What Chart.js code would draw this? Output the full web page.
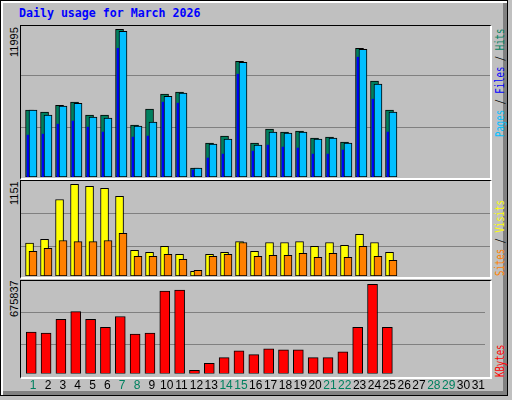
<!DOCTYPE html>
<html><head><meta charset="utf-8">
<script src="https://cdn.jsdelivr.net/npm/chart.js@4"></script>
<style>
body{margin:0;background:#C0C0C0;}
#frame{position:absolute;left:0;top:0;width:506px;height:394px;background:#C0C0C0;border:1px solid #000;box-shadow:inset 2px 2px 0 #fff, inset -4px -4px 0 #808080;}
.panel{position:absolute;left:20px;width:469px;border-top:1px solid #000;border-left:1px solid #000;border-right:2px solid #fff;border-bottom:2px solid #fff;background:#C0C0C0;}
canvas{position:absolute;}
.rot{position:absolute;transform-origin:0 0;transform:rotate(-90deg);white-space:nowrap;}
.yl{font:11px "Liberation Sans";line-height:11px;color:#000;}
.rl{font:9px "DejaVu Sans Mono";line-height:10px;transform:rotate(-90deg) scale(1,1.3);}
#title{position:absolute;left:19px;top:6px;font:bold 11.6px "DejaVu Sans Mono";color:#0000FF;}
</style></head><body>
<div id="frame"></div>
<div id="title">Daily usage for March 2026</div>
<div class="panel" style="top:25px;height:152px"></div>
<div class="panel" style="top:180px;height:96px"></div>
<div class="panel" style="top:280px;height:96px"></div>
<div class="rot yl" style="left:9px;top:57px">11995</div>
<div class="rot yl" style="left:9px;top:205px">1151</div>
<div class="rot yl" style="left:9px;top:317px">675837</div>
<div class="rot rl" style="left:494px;top:137px"><span style="color:#00BFFF">Pages</span> / <span style="color:#0000FF">Files</span> / <span style="color:#00805F">Hits</span></div>
<div class="rot rl" style="left:494px;top:276px"><span style="color:#FF8000">Sites</span> / <span style="color:#FFFF00">Visits</span></div>
<div class="rot rl" style="left:494px;top:377px;color:#FF0000">KBytes</div>
<canvas id="c1" style="left:21px;top:26px"></canvas>
<canvas id="c2" style="left:21px;top:181px"></canvas>
<canvas id="c3" style="left:21px;top:281px"></canvas>
<script>
const days = Array.from({length:31},(_, i)=>i+1);
const weekendDays = [1,7,8,14,15,21,22,28,29];
const hits   = [5430,5270,5830,6080,5020,5020,11995,4210,5510,6730,6890,730,2750,3320,9400,2750,3890,3650,3730,3160,3240,2840,10450,7780,5430];
const files  = [5430,5020,5750,5990,4860,4780,11830,4130,4460,6560,6810,730,2670,3080,9320,2590,3650,3570,3650,3080,3160,2750,10370,7540,5270];
const pages  = [3400,3480,4290,4540,4050,3650,10450,3240,3320,6080,6000,570,1540,1860,8350,2100,2590,2430,2350,1860,1860,2190,9730,6320,3650];
const visits = [412,460,960,1151,1126,1100,1000,322,297,372,272,59,272,297,432,311,420,420,432,372,420,385,522,420,297];
const sites  = [311,348,445,432,432,445,535,247,247,272,210,72,247,272,420,247,260,260,285,235,285,235,372,247,197];
const kbytes = [313000,306000,410000,469000,410000,350000,432000,299000,306000,624000,632000,25000,77000,121000,173000,143000,188000,180000,180000,121000,121000,165000,350000,675837,350000];

Chart.defaults.animation = false;
const XMIN = 0.18, XMAX = 31.45;
function xAxis(shift, show){
  return {type:'linear', display:show, offset:false, min:XMIN+shift, max:XMAX+shift,
    afterBuildTicks:s=>{s.ticks=days.map(d=>({value:d}));},
    grid:{display:false, drawTicks:false}, border:{display:false},
    ticks:show?{autoSkip:false, padding:5, maxRotation:0,
      font:{family:'Liberation Sans', size:12},
      color:c=>weekendDays.includes(c.tick.value)?'#00805F':'#000'}:{display:false}};
}
function yAxis(max, fracs){
  return {min:0, max:max, display:true,
    afterBuildTicks:s=>{s.ticks=fracs.map(f=>({value:max*f}));},
    ticks:{display:false}, grid:{color:'#808080', lineWidth:1, drawTicks:false}, border:{display:false}};
}
const pts = arr => arr.map((v,i)=>({x:days[i], y:v}));
function bar(label, arr, color, axis, w, order, bw){
  return {label, data:pts(arr), backgroundColor:color, borderColor:'#000', borderWidth:bw,
    barThickness:w, xAxisID:axis, order, borderSkipped:false, grouped:false};
}
function make(id, w, h, datasets, scales, pad){
  const c = document.getElementById(id); c.width=w; c.height=h; c.style.width=w+'px'; c.style.height=h+'px';
  new Chart(c, {type:'bar', data:{datasets},
    options:{responsive:false, devicePixelRatio:1, layout:{padding:pad||0},
      plugins:{legend:{display:false}, tooltip:{enabled:false}}, scales}});
}
make('c1', 469, 151, [
  bar('Hits', hits, '#00805F', 'xh', 8, 3, 1),
  bar('Pages', pages, '#0000FF', 'xp', 2, 2, 0),
  bar('Files', files, '#00BFFF', 'xf', 8, 1, 1)
], {xh:xAxis(0.25,false), xp:xAxis(0.35,false), xf:xAxis(0.02,false), y:yAxis(12263,[0.331,0.669])});
make('c2', 469, 95, [
  bar('Visits', visits, '#FFFF00', 'xv', 8, 2, 1),
  bar('Sites', sites, '#FF8000', 'xs', 8, 1, 1)
], {xv:xAxis(0.25,false), xs:xAxis(0.02,false), y:yAxis(1192,[0.313,0.66])});
make('c3', 469, 117, [
  bar('KBytes', kbytes, '#FF0000', 'xk', 10, 1, 1)
], {x:xAxis(0,true), xk:xAxis(0.13,false), y:yAxis(700158,[0.313,0.66])});
</script></body></html>
